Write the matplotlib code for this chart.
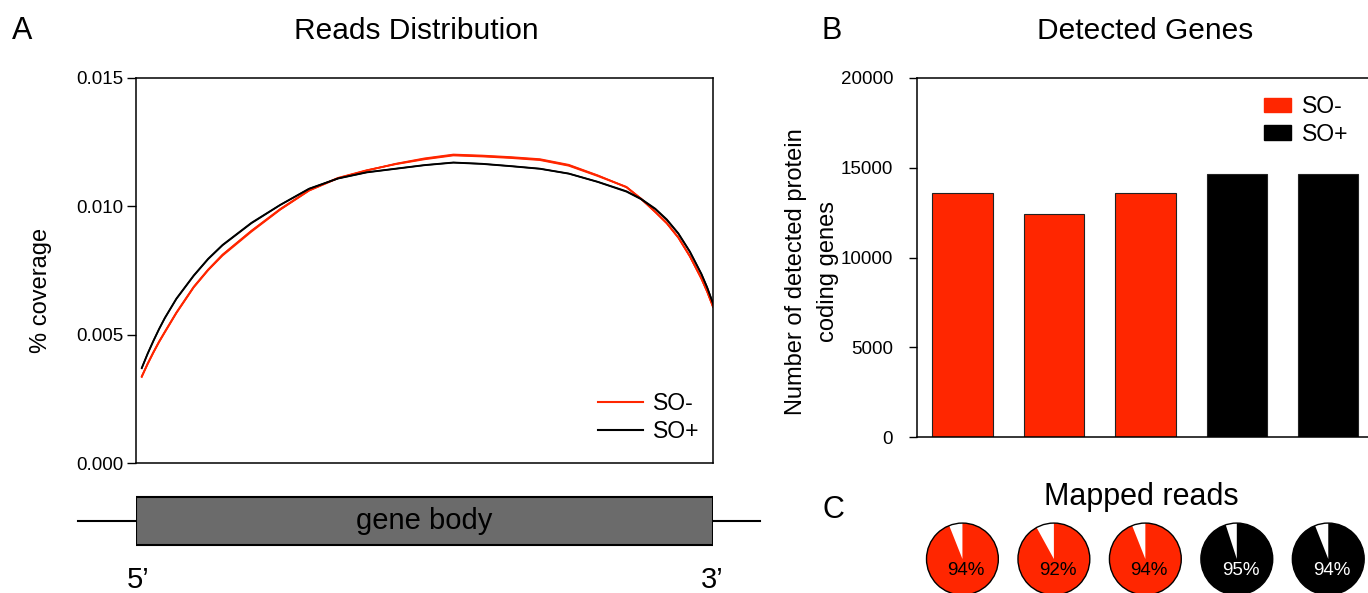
import numpy as np
import matplotlib
matplotlib.use("Agg")
import matplotlib.pyplot as plt
from matplotlib.patches import Rectangle, Patch
from matplotlib.lines import Line2D

plt.rcParams['font.family'] = ['Liberation Sans', 'DejaVu Sans']

RED = "#FF2600"
GREY = "#6B6B6B"

# gene body percentile positions and coverage
pct = [1, 2, 3, 4, 5, 7, 10, 12.5, 15, 20, 25, 30, 35, 40, 45, 50, 55, 60, 65, 70, 75, 80,
       85, 87.5, 90, 92, 94, 96, 98, 99, 100]
so_minus_1 = [0.00335, 0.00384, 0.00429, 0.00471, 0.00509, 0.00584, 0.00684, 0.00751, 0.00808,
              0.00901, 0.00987, 0.01061, 0.01109, 0.01140, 0.01166, 0.01187, 0.01202, 0.01198,
              0.01192, 0.01184, 0.01162, 0.01121, 0.01074, 0.01029, 0.00977, 0.00933, 0.00877,
              0.00804, 0.00717, 0.00666, 0.00607]
so_minus_2 = [0.00337, 0.00387, 0.00432, 0.00474, 0.00512, 0.00587, 0.00687, 0.00754, 0.00812,
              0.00905, 0.00990, 0.01063, 0.01111, 0.01141, 0.01164, 0.01183, 0.01198, 0.01194,
              0.01188, 0.01180, 0.01158, 0.01118, 0.01075, 0.01031, 0.00979, 0.00935, 0.00879,
              0.00806, 0.00719, 0.00668, 0.00610]
so_minus_3 = [0.00338, 0.00386, 0.00430, 0.00472, 0.00510, 0.00585, 0.00685, 0.00752, 0.00811,
              0.00904, 0.00988, 0.01062, 0.01110, 0.01139, 0.01165, 0.01185, 0.01200, 0.01196,
              0.01190, 0.01182, 0.01160, 0.01120, 0.01076, 0.01030, 0.00978, 0.00934, 0.00878,
              0.00805, 0.00718, 0.00667, 0.00609]
so_plus_1 = [0.00369, 0.00424, 0.00474, 0.00521, 0.00564, 0.00639, 0.00729, 0.00794, 0.00848,
             0.00934, 0.01005, 0.01068, 0.01108, 0.01132, 0.01146, 0.01160, 0.01170, 0.01165,
             0.01156, 0.01146, 0.01127, 0.01095, 0.01057, 0.01028, 0.00989, 0.00947, 0.00893,
             0.00822, 0.00735, 0.00683, 0.00623]
so_plus_2 = [0.00371, 0.00426, 0.00476, 0.00523, 0.00566, 0.00641, 0.00731, 0.00796, 0.00850,
             0.00936, 0.01006, 0.01069, 0.01109, 0.01133, 0.01147, 0.01161, 0.01171, 0.01166,
             0.01157, 0.01147, 0.01128, 0.01096, 0.01059, 0.01030, 0.00991, 0.00949, 0.00895,
             0.00824, 0.00737, 0.00684, 0.00621]

# detected protein coding genes per sample
samples = ["SO- 1", "SO- 2", "SO- 3", "SO+ 1", "SO+ 2"]
genes = [13620, 12440, 13580, 14630, 14650]
bar_colors = [RED, RED, RED, "black", "black"]

# mapped reads (%)
mapped = [94, 92, 94, 95, 94]
text_colors = ["black", "black", "black", "white", "white"]

W, H = 1368, 593
fig = plt.figure(figsize=(W / 100, H / 100), dpi=100)


def px(x0, y0, x1, y1):
    # pixel box (top-left origin) -> figure fraction rect
    return [x0 / W, 1 - y1 / H, (x1 - x0) / W, (y1 - y0) / H]


# ---- A: reads distribution
axA = fig.add_axes(px(136, 78, 713, 463))
for ys in (so_minus_1, so_minus_2, so_minus_3):
    axA.plot(pct, ys, color=RED, lw=1.2)
for ys in (so_plus_1, so_plus_2):
    axA.plot(pct, ys, color="black", lw=1.2)
axA.set_xlim(0, 100)
axA.set_ylim(0, 0.015)
axA.set_yticks([0, 0.005, 0.010, 0.015])
axA.set_yticklabels(["0.000", "0.005", "0.010", "0.015"])
axA.set_xticks([])
axA.tick_params(axis="y", length=6.5, width=1, pad=2.5, labelsize=13.5)
for s in axA.spines.values():
    s.set_linewidth(1.1)
axA.set_ylabel("% coverage", fontsize=17)
axA.yaxis.label.set_va("center")
axA.yaxis.set_label_coords(-0.165, 0.449)
axA.legend(handles=[Line2D([], [], color=RED, lw=1.5, label="SO-"),
                    Line2D([], [], color="black", lw=1.5, label="SO+")],
           loc="upper left", bbox_to_anchor=(598 / W, 1 - 392 / H), bbox_transform=fig.transFigure,
           frameon=False, fontsize=16.5, handlelength=1.95, handletextpad=0.45,
           labelspacing=0.2, borderpad=0, borderaxespad=0)

# gene body schematic (axes spans pixel rows 490..593)
axG = fig.add_axes(px(136, 490, 713, 593))
axG.set_xlim(0, 100)
axG.set_ylim(593, 490)
axG.axis("off")
axG.plot([-10.05, 108.1], [521, 521], color="black", lw=1.5, clip_on=False)
axG.add_patch(Rectangle((0, 497), 100, 48, facecolor=GREY, edgecolor="black", lw=1.5, zorder=3))
axG.text(50, 521, "gene body", ha="center", va="center", fontsize=21, zorder=4)
axG.text(0.4, 588, "5\u2019", ha="center", va="baseline", fontsize=21)
axG.text(99.8, 588, "3\u2019", ha="center", va="baseline", fontsize=21)

# ---- B: detected genes
axB = fig.add_axes(px(916.7, 78, 1374, 437))
axB.bar(range(len(genes)), genes, width=0.66, color=bar_colors, edgecolor="#222222", lw=0.8)
axB.set_xlim(-0.5, 4.5)
axB.set_ylim(0, 20000)
axB.set_yticks([0, 5000, 10000, 15000, 20000])
axB.set_xticks([])
axB.tick_params(axis="y", length=6, width=1, pad=11, labelsize=13.5)
for s in axB.spines.values():
    s.set_linewidth(1.1)
axB.set_ylabel("Number of detected protein\ncoding genes", fontsize=17, linespacing=1.55)
axB.yaxis.label.set_va("center")
axB.yaxis.set_label_coords(-0.229, 0.462)
axB.legend(handles=[Patch(color=RED, label="SO-"), Patch(color="black", label="SO+")],
           loc="upper left", bbox_to_anchor=(1264 / W, 1 - 95 / H), bbox_transform=fig.transFigure,
           frameon=False, fontsize=16.5, handlelength=1.18, handleheight=0.57, handletextpad=0.47,
           labelspacing=0.2, borderpad=0, borderaxespad=0)

# ---- C: mapped reads pies under each bar
fig.canvas.draw()
d = 74
for i, m in enumerate(mapped):
    cx = axB.transData.transform((i, 0))[0]
    axP = fig.add_axes(px(cx - d / 2, 559 - d / 2, cx + d / 2, 559 + d / 2))
    axP.pie([100 - m, m], colors=["white", bar_colors[i]], startangle=90, counterclock=True,
            wedgeprops=dict(edgecolor="none"))
    axP.add_patch(plt.Circle((0, 0), 1, fill=False, edgecolor="black", lw=1))
    axP.text(0.1, -0.32, f"{m}%", ha="center", va="center", fontsize=13.5, color=text_colors[i])
    axP.set_xlim(-1.03, 1.03)
    axP.set_ylim(-1.03, 1.03)
    axP.set_aspect("equal")
    axP.axis("off")

# titles and panel letters
fig.text(12 / W, 1 - 39 / H, "A", fontsize=22, va="baseline")
fig.text(416 / W, 1 - 39 / H, "Reads Distribution", fontsize=21.5, ha="center", va="baseline")
fig.text(822 / W, 1 - 39 / H, "B", fontsize=22, va="baseline")
fig.text(1145 / W, 1 - 39 / H, "Detected Genes", fontsize=21.5, ha="center", va="baseline")
fig.text(822 / W, 1 - 518 / H, "C", fontsize=22, va="baseline")
fig.text(1141 / W, 1 - 505 / H, "Mapped reads", fontsize=22, ha="center", va="baseline")

fig.savefig("out.png", dpi=100)
